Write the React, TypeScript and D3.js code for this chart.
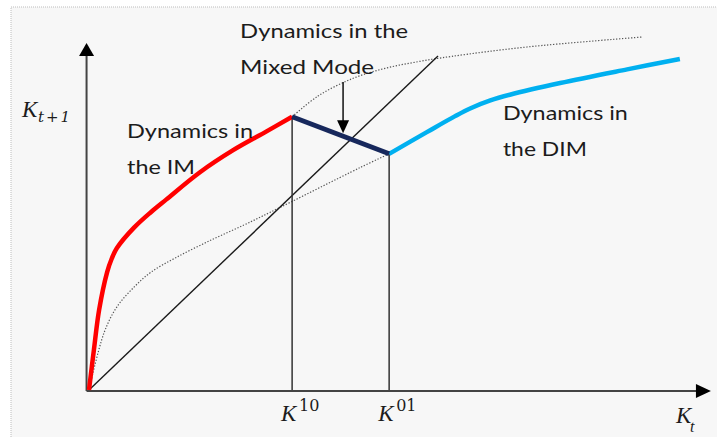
import React from "react";
import * as d3 from "d3";

// ---- data (abstract model units: K_t on x, K_{t+1} on y) ----
const imCurve: [number, number][] = [
  [0, 0], [1.4, 12], [2.9, 24], [5.2, 35.3], [6.5, 39.3], [8, 42.5], [12.9, 48.6], [17.8, 53.3],
  [22.1, 57], [31.8, 65.2], [41.3, 71.8], [51, 77.5], [58.2, 81.8],
];
const mixedSegment: [number, number][] = [[58.2, 81.8], [86, 70.7]];
const dimCurve: [number, number][] = [
  [86, 70.7], [96.8, 77.2], [104.9, 82.0], [109.2, 84.3], [115, 86.7], [120.6, 88.4],
  [135, 91.9], [154.2, 96], [169.3, 99.1],
];
const upperDotted: [number, number][] = [
  [58.2, 81.8], [65.6, 88.0], [75.4, 93.2], [84.8, 96.3], [94.3, 98.3],
  [104, 99.9], [125.5, 102.7], [158.7, 105.7],
];
const lowerDotted: [number, number][] = [
  [0, 0], [4.3, 17.1], [8, 24.9], [12.9, 30.8], [17.8, 35.3], [25.2, 39.8],
  [35, 44.9], [44.4, 49.4], [52.1, 53.3], [77.7, 66.6], [86, 70.7],
];
const diagonal: [number, number][] = [[0, 0], [100, 100]];
const thresholds = [
  { x: 58.2, y: 81.8, label: "10" },
  { x: 86, y: 70.7, label: "01" },
];
const axisMax = { x: 178.2, y: 103.9 };
const mixedArrow = { x: 72.8, y0: 92.2, y1: 76.9 };
const annotations = [
  { lines: ["Dynamics in the", "Mixed Mode"], x: 43.3, y: 105.4, widths: [168, 134] },
  { lines: ["Dynamics in", "the IM"], x: 10.9, y: 75.4, widths: [126, 68] },
  { lines: ["Dynamics in", "the DIM"], x: 118.6, y: 80.8, widths: [125, 84] },
];

const W = 717;
const H = 437;

export default function App() {
  const x = d3.scaleLinear().domain([0, 100]).range([89, 438]);
  const y = d3.scaleLinear().domain([0, 100]).range([390, 56]);
  const line = d3
    .line<[number, number]>()
    .x((d) => x(d[0]))
    .y((d) => y(d[1]))
    .curve(d3.curveCatmullRom.alpha(0.5));
  const straight = d3
    .line<[number, number]>()
    .x((d) => x(d[0]))
    .y((d) => y(d[1]));

  const ax0 = x(-0.7);
  const ay0 = y(-0.3);
  const axTip = x(axisMax.x);
  const ayTip = y(axisMax.y);
  const textFont = "Lato, 'Open Sans', sans-serif";
  const mathFont = "'Liberation Serif', 'DejaVu Serif', serif";
  const digitFont = "'DejaVu Serif', serif";
  const textColor = "#1c1c1c";
  const lineSpacing = 36;

  return (
    <svg
      width={W}
      height={H}
      style={{ position: "absolute", left: 0, top: 0, background: "#fff" }}
    >
      <rect x={11} y={7} width={W} height={H} fill="#f7f7f7" stroke="#bdbdbd" strokeDasharray="1 1" />

      {/* dotted reference curves */}
      <path d={line(upperDotted) || ""} fill="none" stroke="#555" strokeWidth={1.2} strokeDasharray="1.3 1.7" />
      <path d={line(lowerDotted) || ""} fill="none" stroke="#555" strokeWidth={1.2} strokeDasharray="1.3 1.7" />

      {/* 45-degree line */}
      <path d={straight(diagonal) || ""} fill="none" stroke="#1a1a1a" strokeWidth={1.4} />

      {/* threshold verticals */}
      {thresholds.map((t) => (
        <line key={t.label} x1={x(t.x)} x2={x(t.x)} y1={ay0} y2={y(t.y)} stroke="#333" strokeWidth={1.5} />
      ))}

      {/* axes */}
      <line x1={ax0} x2={ax0} y1={ay0} y2={ayTip + 12} stroke="#444" strokeWidth={2} />
      <polygon points={`${ax0},${ayTip} ${ax0 - 7.5},${ayTip + 13} ${ax0 + 7.5},${ayTip + 13}`} fill="#000" />
      <line x1={ax0} x2={axTip - 12} y1={ay0} y2={ay0} stroke="#444" strokeWidth={2} />
      <polygon points={`${axTip},${ay0} ${axTip - 15},${ay0 - 7} ${axTip - 15},${ay0 + 7}`} fill="#000" />

      {/* dynamics */}
      <path d={line(imCurve) || ""} fill="none" stroke="#ff0000" strokeWidth={4.5} strokeLinecap="butt" />
      <path d={line(dimCurve) || ""} fill="none" stroke="#00b0f0" strokeWidth={4.5} />
      <path d={straight(mixedSegment) || ""} fill="none" stroke="#17285c" strokeWidth={4.8} strokeLinejoin="round" />

      {/* mixed mode arrow */}
      <line x1={x(mixedArrow.x)} x2={x(mixedArrow.x)} y1={y(mixedArrow.y0)} y2={y(mixedArrow.y1) - 11} stroke="#111" strokeWidth={1.5} />
      <polygon
        points={`${x(mixedArrow.x)},${y(mixedArrow.y1)} ${x(mixedArrow.x) - 6},${y(mixedArrow.y1) - 13} ${x(mixedArrow.x) + 6},${y(mixedArrow.y1) - 13}`}
        fill="#000"
      />

      {/* annotations */}
      {annotations.map((a, i) =>
        a.lines.map((l, j) => (
          <text
            key={`${i}-${j}`}
            x={x(a.x)}
            y={y(a.y) + j * lineSpacing}
            fontFamily={textFont}
            fontSize={20}
            fill={textColor}
            textLength={a.widths[j]}
            lengthAdjust="spacingAndGlyphs"
          >
            {l}
          </text>
        ))
      )}

      {/* math labels */}
      <text x={22} y={117} fontFamily={mathFont} fontStyle="italic" fontSize={23} fill={textColor}>
        K
      </text>
      <text x={38} y={122} fontFamily={digitFont} fontStyle="italic" fontSize={15} fill={textColor} textLength={32} lengthAdjust="spacing">
        t+1
      </text>
      {thresholds.map((t) => (
        <g key={"k" + t.label}>
          <text x={x(t.x) - 11} y={421} fontFamily={mathFont} fontStyle="italic" fontSize={23} fill={textColor}>
            K
          </text>
          <text x={x(t.x) + 7} y={411} fontFamily={digitFont} fontSize={16} fill={textColor}>
            {t.label}
          </text>
        </g>
      ))}
      <text x={676} y={423} fontFamily={mathFont} fontStyle="italic" fontSize={23} fill={textColor}>
        K
      </text>
      <text x={690} y={432} fontFamily={mathFont} fontStyle="italic" fontSize={16} fill={textColor}>
        t
      </text>
    </svg>
  );
}
